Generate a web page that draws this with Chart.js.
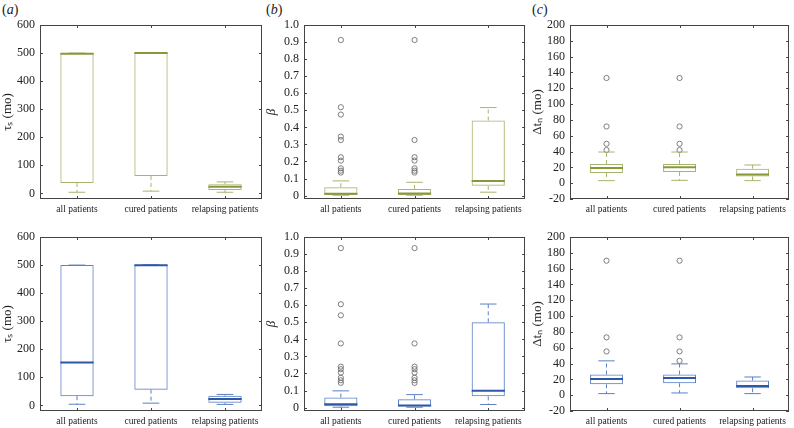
<!DOCTYPE html>
<html>
<head>
<meta charset="utf-8">
<script src="https://cdn.jsdelivr.net/npm/chart.js@4.4.1/dist/chart.umd.min.js"></script>
<style>
  body { margin: 0; background: #fff; }
  #wrap { position: relative; width: 794px; height: 428px; overflow: hidden; }
  .panel { position: absolute; }
  .tag { position: absolute; font-family: 'Liberation Serif', serif; font-size: 14px; color: #222; }
</style>
</head>
<body>
<div id="wrap">
  <div class="tag" style="left:2px;top:2px">(<i>a</i>)</div>
  <div class="tag" style="left:266px;top:2px">(<i>b</i>)</div>
  <div class="tag" style="left:532px;top:2px">(<i>c</i>)</div>
</div>
<script>
// categories shared by all panels
const categories = ['all patients', 'cured patients', 'relapsing patients'];

// (a) tau_s, top row
const tauTopLow = [4, 8, 4];
const tauTopQ1 = [37, 62, 12];
const tauTopMedian = [498, 500, 24];
const tauTopQ3 = [500, 502, 33];
const tauTopHigh = [500, 502, 41];
const tauTopOutliers = [[], [], []];

// (b) beta, top row
const betaTopLow = [0.002, 0.002, 0.02];
const betaTopQ1 = [0.004, 0.004, 0.057];
const betaTopMedian = [0.011, 0.012, 0.086];
const betaTopQ3 = [0.049, 0.039, 0.44];
const betaTopHigh = [0.086, 0.078, 0.516];
const betaTopOutliers = [
  [0.912, 0.518, 0.475, 0.346, 0.326, 0.225, 0.205, 0.16, 0.146, 0.135],
  [0.912, 0.326, 0.225, 0.205, 0.16, 0.146, 0.135],
  []
];

// (c) delta t_n, top row
const dtTopLow = [3.2, 3.6, 3.2];
const dtTopQ1 = [12.9, 14.1, 8.6];
const dtTopMedian = [19.2, 20, 11.1];
const dtTopQ3 = [24.2, 24.2, 18.3];
const dtTopHigh = [39.4, 39.4, 23];
const dtTopOutliers = [[133, 71.7, 49.8, 41.9], [133, 71.7, 49.8, 41.9], []];

// (a) tau_s, bottom row
const tauBotLow = [4, 8, 3.5];
const tauBotQ1 = [33, 56, 9.6];
const tauBotMedian = [152.7, 499, 22.5];
const tauBotQ3 = [500, 501, 34.6];
const tauBotHigh = [500, 501, 39];
const tauBotOutliers = [[], [], []];

// (b) beta, bottom row
const betaBotLow = [0.002, 0.002, 0.018];
const betaBotQ1 = [0.008, 0.006, 0.066];
const betaBotMedian = [0.02, 0.012, 0.098];
const betaBotQ3 = [0.059, 0.049, 0.5];
const betaBotHigh = [0.098, 0.076, 0.607];
const betaBotOutliers = [
  [0.935, 0.606, 0.541, 0.376, 0.24, 0.225, 0.205, 0.175, 0.16, 0.145],
  [0.935, 0.376, 0.24, 0.225, 0.205, 0.175, 0.16, 0.145],
  []
];

// (c) delta t_n, bottom row
const dtBotLow = [2, 2.8, 2];
const dtBotQ1 = [13.8, 15.1, 8.8];
const dtBotMedian = [20.6, 21.8, 11.7];
const dtBotQ3 = [26.1, 26.1, 18.5];
const dtBotHigh = [43.4, 39.6, 23];
const dtBotOutliers = [[170, 73.1, 55.3], [170, 73.1, 55.3, 43.4], []];

// y tick values
const tauTicks = [0, 100, 200, 300, 400, 500, 600];
const betaTicks = [0, 0.1, 0.2, 0.3, 0.4, 0.5, 0.6, 0.7, 0.8, 0.9, 1.0];
const dtTicks = [-20, 0, 20, 40, 60, 80, 100, 120, 140, 160, 180, 200];

const green = '#a7b46e';
const greenDark = '#869a3c';
const blue = '#5b80c6';
const blueDark = '#2d58a8';

// whiskers, caps, medians, frame and inward ticks
const boxExtras = {
  id: 'boxExtras',
  afterDatasetsDraw(chart, args, opts) {
    const ctx = chart.ctx;
    const x = chart.scales.x, y = chart.scales.y;
    const bars = chart.getDatasetMeta(0).data;
    ctx.save();
    bars.forEach((bar, i) => {
      const cx = bar.x, w = bar.width;
      const yQ1 = y.getPixelForValue(opts.q1[i]);
      const yQ3 = y.getPixelForValue(opts.q3[i]);
      const yLo = y.getPixelForValue(opts.lo[i]);
      const yHi = y.getPixelForValue(opts.hi[i]);
      const yMed = y.getPixelForValue(opts.med[i]);
      ctx.strokeStyle = opts.color;
      ctx.lineWidth = 1;
      ctx.setLineDash([4, 3]);
      ctx.beginPath();
      if (yHi < yQ3 - 1) { ctx.moveTo(cx, yQ3); ctx.lineTo(cx, yHi); }
      if (yLo > yQ1 + 1) { ctx.moveTo(cx, yQ1); ctx.lineTo(cx, yLo); }
      ctx.stroke();
      ctx.setLineDash([]);
      ctx.beginPath();
      ctx.moveTo(cx - w / 4, yHi); ctx.lineTo(cx + w / 4, yHi);
      ctx.moveTo(cx - w / 4, yLo); ctx.lineTo(cx + w / 4, yLo);
      ctx.stroke();
      ctx.strokeStyle = opts.medColor;
      ctx.lineWidth = 2;
      ctx.beginPath();
      ctx.moveTo(cx - w / 2, yMed); ctx.lineTo(cx + w / 2, yMed);
      ctx.stroke();
    });
    // frame
    const a = chart.chartArea;
    ctx.strokeStyle = '#444';
    ctx.lineWidth = 1;
    ctx.strokeRect(Math.round(a.left) + 0.5, Math.round(a.top) + 0.5,
      Math.round(a.right - a.left) - 1, Math.round(a.bottom - a.top) - 1);
    ctx.beginPath();
    y.ticks.forEach(t => {
      const py = Math.round(y.getPixelForValue(t.value)) + 0.5;
      ctx.moveTo(a.left, py); ctx.lineTo(a.left + 3, py);
      ctx.moveTo(a.right - 3, py); ctx.lineTo(a.right, py);
    });
    categories.forEach((c, i) => {
      const px = Math.round(x.getPixelForValue(i)) + 0.5;
      ctx.moveTo(px, a.bottom); ctx.lineTo(px, a.bottom - 3);
      ctx.moveTo(px, a.top); ctx.lineTo(px, a.top + 3);
    });
    ctx.stroke();
    ctx.restore();
  }
};

function makePanel(p) {
  const div = document.createElement('div');
  div.className = 'panel';
  div.style.left = p.left + 'px';
  div.style.top = p.top + 'px';
  div.style.width = p.width + 'px';
  div.style.height = p.height + 'px';
  const canvas = document.createElement('canvas');
  div.appendChild(canvas);
  document.getElementById('wrap').appendChild(div);

  const outlierPts = [];
  p.out.forEach((list, i) => list.forEach(v => outlierPts.push({ x: categories[i], y: v })));

  new Chart(canvas.getContext('2d'), {
    type: 'bar',
    data: {
      labels: categories,
      datasets: [{
        data: categories.map((c, i) => [p.q1[i], p.q3[i]]),
        backgroundColor: 'rgba(255,255,255,0)',
        borderColor: p.color,
        borderWidth: 1,
        borderSkipped: false,
        barPercentage: 0.45,
        categoryPercentage: 1
      }, {
        type: 'line',
        data: outlierPts,
        showLine: false,
        pointRadius: 2.6,
        pointBorderWidth: 0.9,
        pointBorderColor: '#707070',
        pointBackgroundColor: 'rgba(255,255,255,0)'
      }]
    },
    options: {
      responsive: true,
      maintainAspectRatio: false,
      animation: false,
      layout: { padding: { top: p.padTop, right: p.padRight, left: 0, bottom: 0 } },
      plugins: {
        legend: { display: false },
        tooltip: { enabled: false },
        boxExtras: { q1: p.q1, q3: p.q3, lo: p.lo, hi: p.hi, med: p.med, color: p.color, medColor: p.medColor }
      },
      scales: {
        x: {
          type: 'category',
          offset: true,
          grid: { display: false, drawTicks: false },
          border: { display: false },
          ticks: { color: '#222', font: { family: 'Liberation Serif', size: 9.5 }, padding: 5, maxRotation: 0, autoSkip: false },
          afterFit: s => { s.height = p.xHeight; }
        },
        y: {
          min: p.min,
          max: p.max,
          grid: { display: false, drawTicks: false },
          border: { display: false },
          ticks: { color: '#222', font: { family: 'Liberation Serif', size: 12 }, padding: 5, autoSkip: false, callback: p.fmt },
          afterBuildTicks: s => { s.ticks = p.ticks.map(v => ({ value: v })); },
          title: { display: true, text: p.title, color: '#222', padding: 0,
            font: { family: 'Liberation Serif', size: 13, style: p.italic ? 'italic' : 'normal' } },
          afterFit: s => { s.width = 40; }
        }
      }
    },
    plugins: [boxExtras]
  });
}

const fmtInt = v => String(v);
const fmtBeta = v => (v === 0 ? '0' : v.toFixed(1));

const rows = [
  { top: 0, height: 217, padTop: 25, xHeight: 18 },
  { top: 214, height: 214, padTop: 23, xHeight: 17 }
];
const cols = [
  { left: 0, width: 266, padRight: 4 },
  { left: 264, width: 266, padRight: 4 },
  { left: 530, width: 264, padRight: 2 }
];

const panels = [
  [0, 0, tauTopLow, tauTopQ1, tauTopMedian, tauTopQ3, tauTopHigh, tauTopOutliers, -20, 600, tauTicks, fmtInt, 'τₛ (mo)', false, green, greenDark],
  [0, 1, betaTopLow, betaTopQ1, betaTopMedian, betaTopQ3, betaTopHigh, betaTopOutliers, -0.02, 1, betaTicks, fmtBeta, 'β', true, green, greenDark],
  [0, 2, dtTopLow, dtTopQ1, dtTopMedian, dtTopQ3, dtTopHigh, dtTopOutliers, -20, 200, dtTicks, fmtInt, 'Δtₙ (mo)', false, green, greenDark],
  [1, 0, tauBotLow, tauBotQ1, tauBotMedian, tauBotQ3, tauBotHigh, tauBotOutliers, -20, 600, tauTicks, fmtInt, 'τₛ (mo)', false, blue, blueDark],
  [1, 1, betaBotLow, betaBotQ1, betaBotMedian, betaBotQ3, betaBotHigh, betaBotOutliers, -0.02, 1, betaTicks, fmtBeta, 'β', true, blue, blueDark],
  [1, 2, dtBotLow, dtBotQ1, dtBotMedian, dtBotQ3, dtBotHigh, dtBotOutliers, -20, 200, dtTicks, fmtInt, 'Δtₙ (mo)', false, blue, blueDark]
];

panels.forEach(d => {
  const r = rows[d[0]], c = cols[d[1]];
  makePanel({
    top: r.top, height: r.height, padTop: r.padTop, xHeight: r.xHeight,
    left: c.left, width: c.width, padRight: c.padRight,
    lo: d[2], q1: d[3], med: d[4], q3: d[5], hi: d[6], out: d[7],
    min: d[8], max: d[9], ticks: d[10], fmt: d[11], title: d[12], italic: d[13],
    color: d[14], medColor: d[15]
  });
});
</script>
</body>
</html>
